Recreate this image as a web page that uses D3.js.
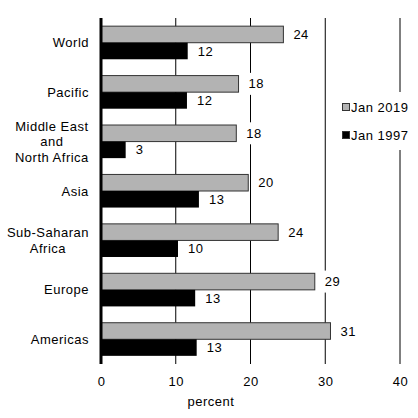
<!DOCTYPE html>
<html>
<head>
<meta charset="utf-8">
<script src="https://cdn.jsdelivr.net/npm/d3@7"></script>
<style>
  body { margin: 0; background: #fff; }
  text { font-family: "Liberation Sans", Arial, sans-serif; font-size: 13px; fill: #000; letter-spacing: 0.5px; }
</style>
</head>
<body>
<div id="chart"></div>
<script>
// data
var categories = ["World", "Pacific", "Middle East\nand\nNorth Africa", "Asia", "Sub-Saharan\nAfrica", "Europe", "Americas"];
var series = ["Jan 2019", "Jan 1997"];
var jan2019 = [24.4, 18.4, 18.1, 19.7, 23.7, 28.6, 30.7];
var jan1997 = [11.6, 11.5, 3.3, 13.1, 10.3, 12.6, 12.8];
var x_ticks = [0, 10, 20, 30, 40];

var colours = { "Jan 2019": "#b3b3b3", "Jan 1997": "#000" };

var width = 418, height = 418;
var margin = { top: 18, left: 101, right: 18, bottom: 54 };

var svg = d3.select("#chart")
  .append("svg")
  .attr("width", width)
  .attr("height", height);

var x = d3.scaleLinear().domain([0, 40]).range([margin.left, 400]);
var y = d3.scaleBand().domain(categories).range([margin.top, height - margin.bottom])
  .paddingInner(0.33).paddingOuter(0.165);
var y_inner = d3.scaleBand().domain(series).range([0, y.bandwidth()]);

var rows = categories.map(function(c, i) {
  return [
    { cat: c, s: "Jan 2019", v: jan2019[i] },
    { cat: c, s: "Jan 1997", v: jan1997[i] }
  ];
});
var bars = d3.merge(rows);

//gridlines
svg.append("g")
  .selectAll("line")
  .data(x_ticks.slice(1))
  .enter()
  .append("line")
  .attr("x1", function(d) { return x(d); })
  .attr("x2", function(d) { return x(d); })
  .attr("y1", margin.top)
  .attr("y2", height - margin.bottom)
  .style("stroke", "#000")
  .style("stroke-width", 1);

//white boxes behind value labels, they break the gridlines
var label_gap = 10;
svg.append("g")
  .selectAll("rect")
  .data(bars)
  .enter()
  .append("rect")
  .attr("x", function(d) { return x(d.v) + label_gap - 4; })
  .attr("y", function(d) { return y(d.cat) + y_inner(d.s) + y_inner.bandwidth() / 2 - 11; })
  .attr("width", 24)
  .attr("height", 22)
  .style("fill", "#fff");

//bars
svg.append("g")
  .selectAll("rect")
  .data(bars)
  .enter()
  .append("rect")
  .attr("x", x(0))
  .attr("y", function(d) { return y(d.cat) + y_inner(d.s); })
  .attr("width", function(d) { return x(d.v) - x(0); })
  .attr("height", y_inner.bandwidth())
  .style("fill", function(d) { return colours[d.s]; })
  .style("stroke", function(d) { return d.s == "Jan 2019" ? "#333" : "none"; })
  .style("stroke-width", 1);

//value labels
svg.append("g")
  .selectAll("text")
  .data(bars)
  .enter()
  .append("text")
  .attr("x", function(d) { return x(d.v) + label_gap; })
  .attr("y", function(d) { return y(d.cat) + y_inner(d.s) + y_inner.bandwidth() / 2; })
  .attr("dy", "0.35em")
  .text(function(d) { return Math.round(d.v); });

//zero axis
svg.append("line")
  .attr("x1", x(0))
  .attr("x2", x(0))
  .attr("y1", margin.top)
  .attr("y2", height - margin.bottom)
  .style("stroke", "#000")
  .style("stroke-width", 3);

//category labels, multi-line ones are centred and the block sits right
var cat_labels = svg.append("g")
  .selectAll("text")
  .data(categories)
  .enter()
  .append("text")
  .attr("text-anchor", "middle")
  .each(function(c) {
    var lines = c.split("\n");
    var el = d3.select(this);
    lines.forEach(function(l, k) {
      el.append("tspan")
        .attr("x", 0)
        .attr("y", y(c) + y.bandwidth() / 2 + (k - (lines.length - 1) / 2) * 15.5)
        .attr("dy", "0.35em")
        .text(l);
    });
  });
cat_labels.each(function() {
  var bb = this.getBBox();
  d3.select(this).selectAll("tspan").attr("x", 89 - bb.width / 2);
});

//x axis
var x_axis = svg.append("g")
  .attr("transform", "translate(0," + (height - margin.bottom) + ")")
  .call(d3.axisBottom(x).tickValues(x_ticks).tickSize(0).tickPadding(13));
x_axis.select(".domain").remove();
x_axis.selectAll("text")
  .style("font-family", "\"Liberation Sans\", Arial, sans-serif")
  .style("font-size", "13px")
  .style("fill", "#000");

svg.append("text")
  .attr("x", 211)
  .attr("y", 401)
  .attr("dy", "0.35em")
  .attr("text-anchor", "middle")
  .text("percent");

//legend
var legend = svg.append("g");
legend.append("rect")
  .attr("x", 338)
  .attr("y", 92)
  .attr("width", 78)
  .attr("height", 58)
  .style("fill", "#fff");
var items = legend.selectAll("g")
  .data(series)
  .enter()
  .append("g")
  .attr("transform", function(d, i) { return "translate(342," + (107 + i * 28) + ")"; });
items.append("rect")
  .attr("x", 0.5)
  .attr("y", -3.5)
  .attr("width", 7)
  .attr("height", 7)
  .style("fill", function(d) { return colours[d]; })
  .style("stroke", "#333")
  .style("stroke-width", 1);
items.append("text")
  .attr("x", 9)
  .attr("dy", "0.35em")
  .text(function(d) { return d; });
</script>
</body>
</html>
